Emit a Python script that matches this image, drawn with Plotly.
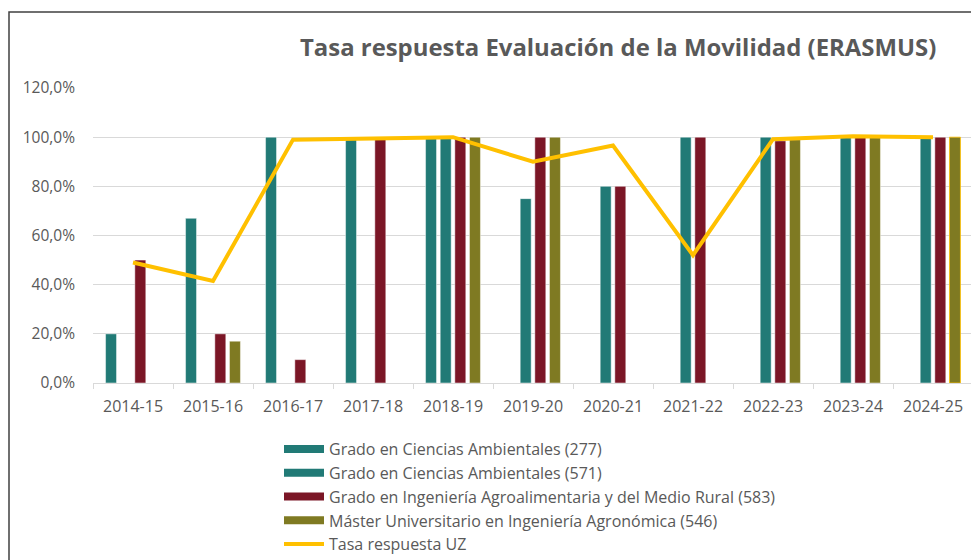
import plotly.graph_objects as go

categories = ["2014-15", "2015-16", "2016-17", "2017-18", "2018-19", "2019-20",
              "2020-21", "2021-22", "2022-23", "2023-24", "2024-25"]

s_277 = [0.20, 0.67, 1.00, 0.995, 1.00, None, None, None, None, None, None]
s_571 = [None, None, None, None, 1.00, 0.75, 0.80, 1.00, 1.00, 1.00, 1.00]
s_583 = [0.50, 0.20, 0.095, 1.00, 1.00, 1.00, 0.80, 1.00, 0.985, 1.00, 1.00]
s_546 = [None, 0.17, None, None, 1.00, 1.00, None, None, 0.99, 1.00, 1.00]
tasa_uz = [0.49, 0.415, 0.99, 0.997, 1.00, 0.90, 0.966, 0.52, 0.992, 1.004, 1.00]

names = ["Grado en Ciencias Ambientales (277)",
         "Grado en Ciencias Ambientales (571)",
         "Grado en Ingeniería Agroalimentaria y del Medio Rural (583)",
         "Máster Universitario en Ingeniería Agronómica (546)"]
colors = ["#217A76", "#217A76", "#7B1626", "#7F7A22"]
series = [s_277, s_571, s_583, s_546]

FONT = "Open Sans"
GRAY = "#595959"
EDGE = "rgba(255,255,255,0.6)"

fig = go.Figure()
for k, (nm, col, vals) in enumerate(zip(names, colors, series)):
    edge = [EDGE] * len(categories)
    if k == 3:
        edge[-1] = "#FFC000"  # highlighted last bar in the reference
    fig.add_trace(go.Bar(x=categories, y=vals, name=nm, marker_color=col,
                         marker_line=dict(color=edge, width=0.8),
                         showlegend=False))
# legend proxies (wide rectangles like the reference)
for i, (nm, col) in enumerate(zip(names, colors)):
    fig.add_trace(go.Scatter(x=[None], y=[None], mode="lines", name=nm,
                             legendgroup=f"g{i}",
                             line=dict(color=col, width=8)))
fig.add_trace(go.Scatter(x=categories, y=tasa_uz, mode="lines", name="Tasa respuesta UZ",
                         legendgroup="g9",
                         line=dict(color="#FFC000", width=4)))

# body margin is removed by post_script, so figure coordinates = page coordinates
W, H = 971, 560
L, R, T = 93, 0, 88
B = H - 383
pw = W - L - R
ph = H - T - B

def px_x(p):
    return (p - L) / pw

def px_y(p):
    return (H - B - p) / ph

fig.update_layout(
    width=W, height=H,
    margin=dict(l=L, r=R, t=T, b=B, autoexpand=False),
    paper_bgcolor="white", plot_bgcolor="white",
    separators=",.",
    barmode="group", bargap=0.268, bargroupgap=0.25,
    font=dict(family=FONT, size=16, color=GRAY),
    title=dict(text="<b>Tasa respuesta Evaluación de la Movilidad (ERASMUS)</b>",
               x=300 / W, xanchor="left", xref="container",
               y=1 - 48 / H, yanchor="middle", yref="container",
               font=dict(family=FONT, size=23.9, color=GRAY)),
    xaxis=dict(range=[-0.5, -0.5 + pw / 80.0], showgrid=False,
               showline=True, linecolor="#D9D9D9", linewidth=1,
               ticks="outside", ticklen=5, tickcolor="#D9D9D9", tickson="boundaries",
               ticklabelstandoff=9,
               tickfont=dict(size=16, color=GRAY), fixedrange=True),
    yaxis=dict(range=[0, 1.2], dtick=0.2, tickformat=".1%",
               showgrid=True, gridcolor="#D9D9D9", gridwidth=1,
               zeroline=False, showline=False, ticks="",
               ticklabelstandoff=17,
               tickfont=dict(size=15.5, color=GRAY), fixedrange=True),
    legend=dict(x=px_x(279), y=px_y(432), xanchor="left", yanchor="top",
                orientation="v", traceorder="grouped", itemwidth=40,
                font=dict(size=16, color=GRAY), bgcolor="rgba(0,0,0,0)",
                tracegroupgap=0),
    shapes=[dict(type="rect", xref="paper", yref="paper",
                 x0=px_x(9), x1=px_x(1000), y0=px_y(12), y1=px_y(700),
                 line=dict(color="#404040", width=1.5), fillcolor="rgba(0,0,0,0)",
                 layer="above")],
)

fig.write_html("out.html",
               config={"displayModeBar": False},
               post_script="document.body.style.margin='0';document.body.style.overflow='hidden';")
